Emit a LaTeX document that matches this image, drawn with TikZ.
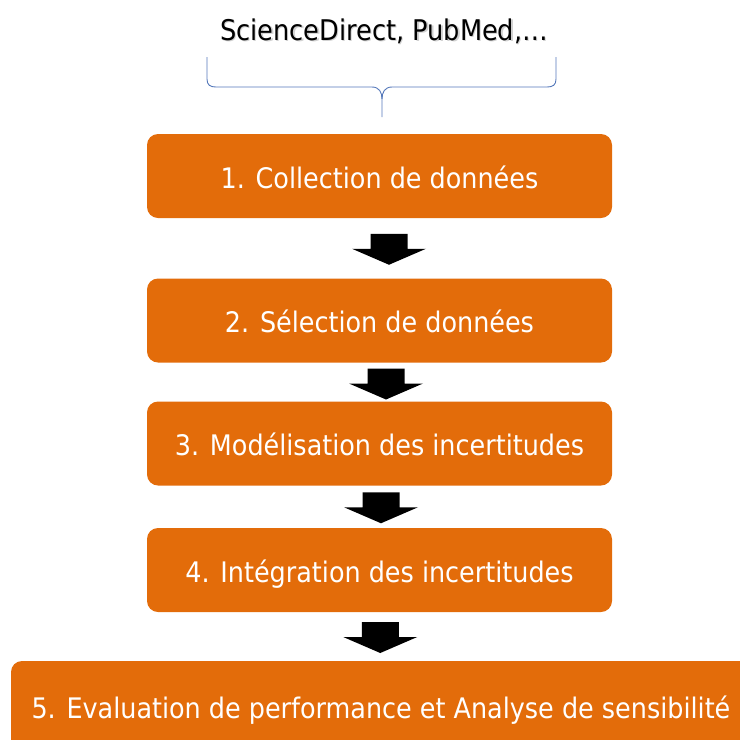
\documentclass[tikz,border=0pt]{standalone}
\usepackage{fontspec}
\setmainfont{DejaVu Sans Condensed}
\usetikzlibrary{calc}
\definecolor{boxorange}{RGB}{227,108,10}
\definecolor{bracecol}{RGB}{84,120,186}
\begin{document}
\begin{tikzpicture}[x=1pt,y=-1pt,
  stepbox/.style={fill=boxorange, rounded corners=11pt, text=white,
    font=\fontsize{28.3}{32}\selectfont, inner sep=0pt,
    text height=24.5pt, text depth=0pt,
    minimum width=465pt, minimum height=84pt},
  srctext/.style={font=\fontsize{28.5}{32}\selectfont, inner sep=0pt},
  blockarrow/.pic={
    \fill[black] (-18.5,-15.5) -- (18.5,-15.5) -- (18.5,-0.5) -- (37,-0.5)
      -- (0,15.5) -- (-37,-0.5) -- (-18.5,-0.5) -- cycle;
  }]
\useasboundingbox (0,0) rectangle (740,740);
\clip (0,0) rectangle (740,740);

% source text with soft shadow
\node[srctext, text=black!30, opacity=0.6] (srcsh) at (385.5,32.5) {ScienceDirect, PubMed,\ldots};
\node[srctext, text=black] (src) at (384,31) {ScienceDirect, PubMed,\ldots};

% brace
\coordinate (bl) at (207,57);
\coordinate (br) at (556,57);
\coordinate (btip) at (382,117);
\draw[bracecol, line width=0.9pt]
  (bl) -- (207,79) .. controls (207,85) and (210,87) .. (216,87) -- (372,87)
  .. controls (379,87) and (382,92) .. (382,99) -- (btip);
\draw[bracecol, line width=0.9pt]
  (br) -- (556,79) .. controls (556,85) and (553,87) .. (547,87) -- (392,87)
  .. controls (385,87) and (382,92) .. (382,99);

% steps
\node[stepbox] (s1) at (379.5,176) {1. Collection de données};
\node[stepbox] (s2) at (379.5,320.5) {2. Sélection de données};
\node[stepbox] (s3) at (379.5,443.5) {3. Modélisation des incertitudes};
\node[stepbox] (s4) at (379.5,570) {4. Intégration des incertitudes};
\node[stepbox, minimum width=740pt, minimum height=90pt] (s5) at (381,706)
  {5. Evaluation de performance et Analyse de sensibilité};

% block arrows
\pic at ($(s1.south)!0.5!(s2.north)+(9.5,1)$) {blockarrow};
\pic at ($(s2.south)!0.5!(s3.north)+(6.5,2)$) {blockarrow};
\pic at ($(s3.south)!0.5!(s4.north)+(1.5,1)$) {blockarrow};
\pic at ($(s4.south)!0.5!(s5.north)+(0,1)$) {blockarrow};
\end{tikzpicture}
\end{document}
